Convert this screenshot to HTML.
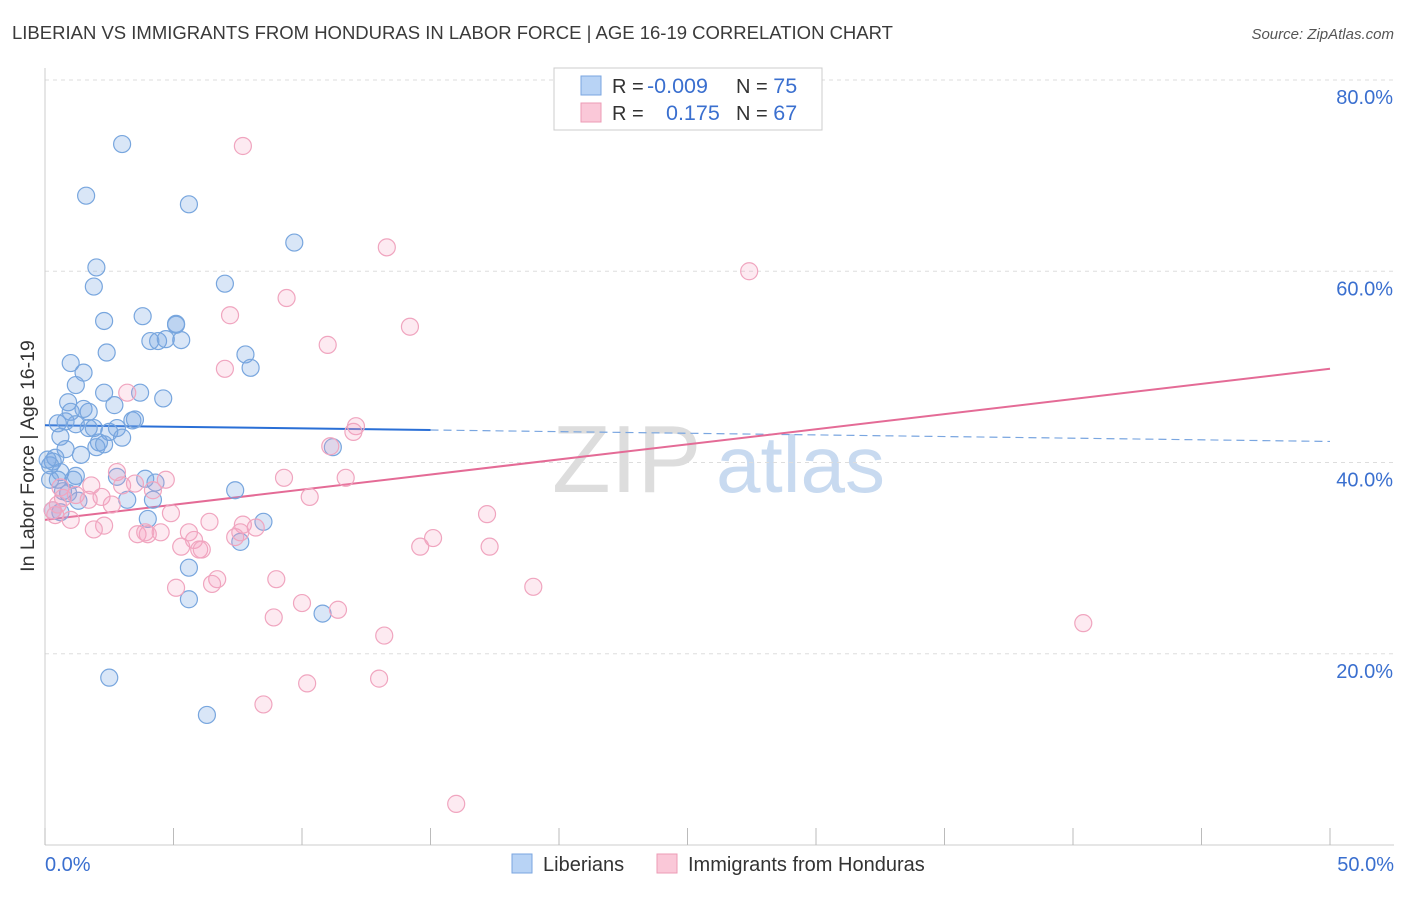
<!DOCTYPE html>
<html><head><meta charset="utf-8"><style>
body{margin:0;background:#fff;font-family:"Liberation Sans",sans-serif;}
svg text{font-family:"Liberation Sans",sans-serif;}
</style></head><body>
<svg id="chart" width="1406" height="892">
<text x="12" y="39" font-size="18.5" fill="#3a3a3a">LIBERIAN VS IMMIGRANTS FROM HONDURAS IN LABOR FORCE | AGE 16-19 CORRELATION CHART</text>
<text x="1394" y="39" font-size="15" fill="#555" font-style="italic" text-anchor="end">Source: ZipAtlas.com</text>
<text x="34" y="456" font-size="19.5" fill="#333" text-anchor="middle" transform="rotate(-90 34 456)">In Labor Force | Age 16-19</text>
<g>
<text x="552" y="492" font-size="96" fill="#ddd" font-family="Liberation Serif">ZIP</text>
<text x="716" y="492" font-size="80" fill="#c8daf0">atlas</text>
</g>
<g id="grid"></g><g id="axes"></g><g id="trends"></g><g id="points"></g>
<g>
<rect x="554" y="68" width="268" height="62" fill="#fff" stroke="#ccc"/>
<rect x="581" y="76" width="20" height="19" fill="#b8d3f5" stroke="#7aa6e0"/>
<rect x="581" y="103" width="20" height="19" fill="#fac8d8" stroke="#ec9bb6"/>
<text x="612" y="93" font-size="20" fill="#333">R = <tspan x="647" font-size="21.5" fill="#3a6fcf">-0.009</tspan></text>
<text x="736" y="93" font-size="20" fill="#333">N = <tspan font-size="21.5" fill="#3a6fcf">75</tspan></text>
<text x="612" y="120" font-size="20" fill="#333">R = <tspan x="666" font-size="21.5" fill="#3a6fcf">0.175</tspan></text>
<text x="736" y="120" font-size="20" fill="#333">N = <tspan font-size="21.5" fill="#3a6fcf">67</tspan></text>
</g>
<g>
<rect x="512" y="854" width="20" height="19" fill="#b8d3f5" stroke="#7aa6e0"/>
<text x="543" y="871" font-size="20" fill="#333">Liberians</text>
<rect x="657" y="854" width="20" height="19" fill="#fac8d8" stroke="#ec9bb6"/>
<text x="688" y="871" font-size="20" fill="#333">Immigrants from Honduras</text>
</g>
</svg>
<script>
const yTicks=[20,40,60,80];
const yTickLabels=["20.0%","40.0%","60.0%","80.0%"];
const xTickLabels=["0.0%","50.0%"];
const blueX=[3.0,1.6,5.6,9.7,2.0,1.9,7.0,2.3,3.8,5.1,5.1,4.1,4.4,4.7,5.3,2.4,7.8,8.0,1.0,1.5,1.2,2.3,3.7,4.6,0.9,2.7,1.0,1.7,1.5,0.5,0.8,1.2,1.7,1.9,2.5,2.8,3.4,3.5,0.6,3.0,2.1,2.0,2.3,1.4,0.4,0.3,0.2,0.6,1.2,1.1,0.5,2.8,3.9,4.3,0.9,0.7,1.3,3.2,4.2,7.4,0.6,0.3,4.0,8.5,7.6,5.6,5.6,10.8,2.5,6.3,11.2,0.2,0.1,0.8];
const blueY=[73.3,67.9,67.0,63.0,60.4,58.4,58.7,54.8,55.3,54.5,54.4,52.7,52.7,52.9,52.8,51.5,51.3,49.9,50.4,49.4,48.1,47.3,47.3,46.7,46.3,46.0,45.3,45.3,45.6,44.1,44.3,44.0,43.6,43.6,43.2,43.6,44.4,44.5,42.7,42.6,42.1,41.6,41.9,40.8,40.5,40.1,39.7,39.0,38.6,38.2,38.2,38.5,38.3,37.9,36.8,37.0,36.0,36.1,36.1,37.1,34.8,35.0,34.1,33.8,31.7,29.0,25.7,24.2,17.5,13.6,41.6,38.2,40.3,41.4];
const pinkX=[7.7,23.9,13.3,27.4,9.4,7.2,14.2,11.0,7.0,3.2,12.1,12.0,11.1,2.8,11.7,4.7,9.3,0.6,1.8,3.0,4.2,3.5,1.2,2.2,1.7,2.6,0.3,0.4,1.0,4.9,10.3,17.2,6.4,2.3,1.9,7.7,8.2,3.6,4.0,4.5,5.6,5.8,7.4,15.1,14.6,17.3,5.3,6.0,6.1,9.0,6.7,6.5,5.1,10.0,11.4,19.0,8.9,40.4,13.2,10.2,13.0,8.5,16.0,3.9,7.6,0.7,0.5];
const pinkY=[73.1,77.0,62.5,60.0,57.2,55.4,54.2,52.3,49.8,47.3,43.8,43.2,41.7,39.0,38.4,38.2,38.4,37.4,37.6,37.6,37.1,37.8,36.6,36.4,36.1,35.6,35.0,34.5,34.0,34.7,36.4,34.6,33.8,33.4,33.0,33.5,33.2,32.5,32.5,32.7,32.7,31.9,32.2,32.1,31.2,31.2,31.2,30.9,30.9,27.8,27.8,27.3,26.9,25.3,24.6,27.0,23.8,23.2,21.9,16.9,17.4,14.7,4.3,32.7,32.7,36.3,35.6];
const blueTrend=[43.9,43.4,42.2]; // at x=0, 15, 50
const pinkTrend=[34.0,49.8]; // at x=0, 50
const NS="http://www.w3.org/2000/svg";
const sx=v=>45+v/50*1285;
const sy=v=>845-v/80*765;
function mk(tag,attrs,parent){const e=document.createElementNS(NS,tag);for(const k in attrs)e.setAttribute(k,attrs[k]);parent.appendChild(e);return e;}
const grid=document.getElementById('grid'),axes=document.getElementById('axes'),trends=document.getElementById('trends'),pts=document.getElementById('points');
yTicks.forEach((t,i)=>{
 const l=mk('line',{x1:45,x2:1394,y1:sy(t),y2:sy(t),stroke:'#ddd','stroke-dasharray':'4,4'},grid);
 
 
 const tx=mk('text',{x:1393,y:sy(t)+24,'font-size':20,fill:'#3a6fcf','text-anchor':'end'},axes);
 tx.textContent=yTickLabels[i];
 
 
});
const ya=mk('line',{x1:45,x2:45,y1:68,y2:845,stroke:'#ccc'},axes);


const xa=mk('line',{x1:45,x2:1394,y1:845,y2:845,stroke:'#ccc'},axes);


for(let v=0;v<=50;v+=5){
 const t=mk('line',{x1:sx(v),x2:sx(v),y1:828,y2:845,stroke:'#bbb'},axes);
 
 
}
[[0,'start',45],[50,'end',1394]].forEach((d,i)=>{
 const tx=mk('text',{x:d[2],y:871,'font-size':20,fill:'#3a6fcf','text-anchor':d[1]},axes);
 tx.textContent=xTickLabels[i];
 
 
});
const b1=mk('line',{x1:sx(0),y1:sy(blueTrend[0]),x2:sx(15),y2:sy(blueTrend[1]),stroke:'#2a6fd6','stroke-width':2},trends);


const b2=mk('line',{x1:sx(15),y1:sy(blueTrend[1]),x2:sx(50),y2:sy(blueTrend[2]),stroke:'#7aa6e0','stroke-width':1.2,'stroke-dasharray':'8,5'},trends);


const p1=mk('line',{x1:sx(0),y1:sy(pinkTrend[0]),x2:sx(50),y2:sy(pinkTrend[1]),stroke:'#e46b96','stroke-width':2},trends);


blueX.forEach((x,i)=>{
 const c=mk('circle',{cx:sx(x),cy:sy(blueY[i]),r:8.5,fill:'rgba(120,165,225,0.28)',stroke:'#78a6de','stroke-width':1.2},pts);
 
 
});
pinkX.forEach((x,i)=>{
 const c=mk('circle',{cx:sx(x),cy:sy(pinkY[i]),r:8.5,fill:'rgba(245,160,190,0.22)',stroke:'#f0a5bf','stroke-width':1.2},pts);
 
 
});
</script>
</body></html>
